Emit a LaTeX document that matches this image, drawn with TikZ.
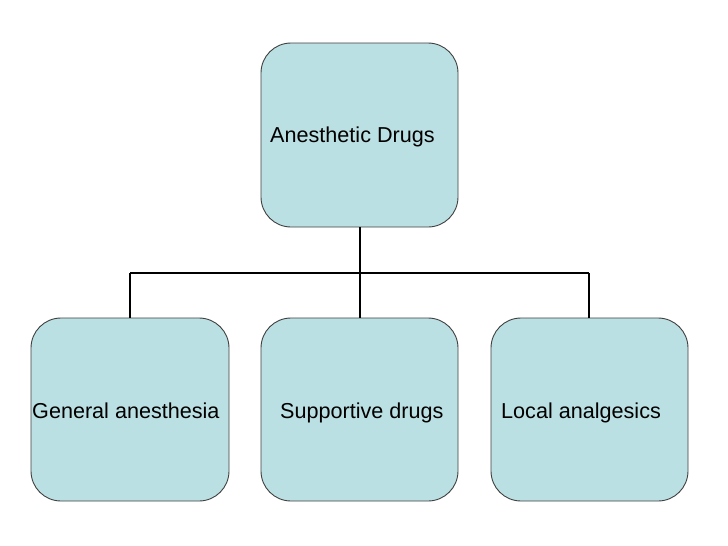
\documentclass[tikz,border=0pt]{standalone}
\usepackage{fontspec}
\setmainfont{Liberation Sans}
\begin{document}
\begin{tikzpicture}[x=1pt,y=-1pt,
  boxstyle/.style={draw=black!75, line width=0.9pt, fill=boxfill, rounded corners=30pt},
  lbl/.style={anchor=base west, inner sep=0pt, font=\fontsize{21.6}{25}\selectfont},
  conn/.style={line width=2pt, black}]
\definecolor{boxfill}{HTML}{BBE0E3}
\useasboundingbox (0,0) rectangle (728,546);
\fill[white] (0,0) rectangle (728,546);
% boxes
\draw[boxstyle] (261,43) rectangle (458,227);
\draw[boxstyle] (31,318) rectangle (229,501);
\draw[boxstyle] (261,318) rectangle (458,501);
\draw[boxstyle] (491,318) rectangle (688,501);
\coordinate (topb) at (359.5,227);
\coordinate (junc) at (359.5,273);
\coordinate (jl) at (130,273);
\coordinate (jr) at (589,273);
\coordinate (b1) at (130,318);
\coordinate (b2) at (359.5,318);
\coordinate (b3) at (589,318);
\draw[conn] (topb) -- (junc);
\draw[conn] (jl) -- (jr);
\draw[conn] (jl) -- (b1);
\draw[conn] (junc) -- (b2);
\draw[conn] (jr) -- (b3);
% labels
\node[lbl] (t0) at (270,142.5) {Anesthetic Drugs};
\node[lbl] (t1) at (32,418) {General anesthesia};
\node[lbl] (t2) at (280,418) {Supportive drugs};
\node[lbl] (t3) at (501,418) {Local analgesics};
\end{tikzpicture}
\end{document}
